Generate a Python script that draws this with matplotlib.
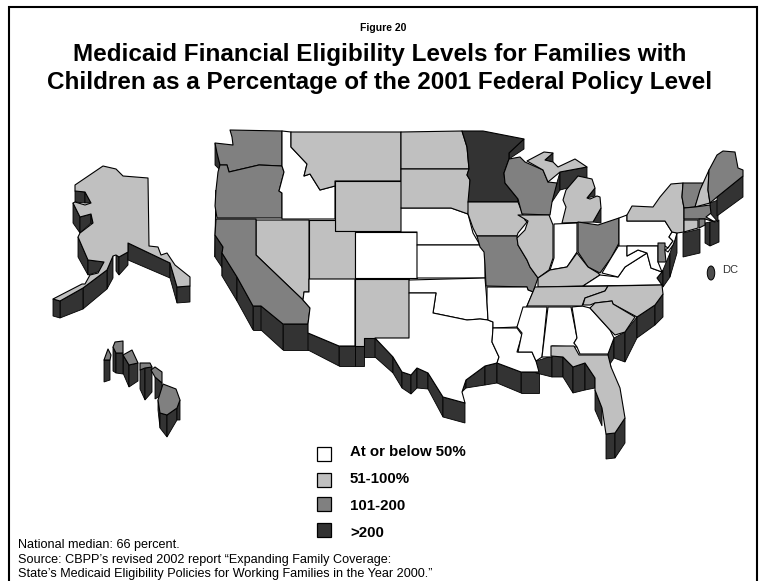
import matplotlib
matplotlib.use('Agg')
import matplotlib.pyplot as plt
from matplotlib.patches import Polygon, Ellipse, Rectangle

plt.rcParams['font.family'] = ['Liberation Sans', 'DejaVu Sans']

# legend and text
level_names = ['At or below 50%', '51-100%', '101-200', '>200']
level_colors = ['#ffffff', '#c0c0c0', '#808080', '#333333']
figure_label = 'Figure 20'
title_lines = ['Medicaid Financial Eligibility Levels for Families with',
               'Children as a Percentage of the 2001 Federal Policy Level']
notes = ['National median: 66 percent.',
         'Source: CBPP\u2019s revised 2002 report \u201cExpanding Family Coverage:',
         'State\u2019s Medicaid Eligibility Policies for Working Families in the Year 2000.\u201d']

# level of each state (index into level_names)
white_states = ['ID', 'CO', 'AZ', 'NE', 'KS', 'OK', 'TX', 'AR', 'LA', 'MS', 'AL', 'GA', 'IN', 'VA', 'WV', 'PA', 'NJ', 'MD']
light_states = ['MT', 'WY', 'ND', 'SD', 'NV', 'UT', 'NM', 'IA', 'IL', 'KY', 'TN', 'NC', 'SC', 'FL', 'NY', 'NH', 'CT', 'MI_U', 'MI_L', 'AK']
mid_states = ['WA', 'OR', 'CA', 'MO', 'WI', 'OH', 'VT', 'ME', 'MA', 'RI', 'DE', 'HI1', 'HI2', 'HI3', 'HI4', 'HI5', 'HI6']
dark_states = ['MN']

# outlines in picture pixels
state_shapes = {
    'WA': [(230,130),(282,131),(282,166),(259,165),(229,172),(227,165),(220,165),(217,153),(215,143),(233,145),(232,137)],
    'OR': [(220,165),(227,165),(229,172),(259,165),(282,166),(284,172),(279,191),(282,193),(282,218),(217,218),(215,206),(216,190),(218,172)],
    'ID': [(282,131),(291,132),(291,147),(307,164),(304,176),(310,174),(320,190),(335,186),(335,219),(282,219),(282,193),(279,191),(284,172),(282,166)],
    'MT': [(291,132),(401,132),(401,181),(335,181),(335,186),(320,190),(310,174),(304,176),(307,164),(291,147)],
    'WY': [(335,181),(401,181),(401,231),(335,231)],
    'UT': [(309,220),(335,220),(335,231),(355,231),(355,279),(309,279)],
    'NV': [(256,220),(309,220),(309,292),(304,292),(303,300),(256,255)],
    'CA': [(216,219),(256,219),(256,255),(303,300),(310,308),(308,324),(283,324),(261,306),(253,306),(237,277),(222,253),(223,247),(215,235)],
    'AZ': [(309,279),(355,279),(355,346),(339,346),(308,333),(308,324),(310,308),(303,300),(304,292),(309,292)],
    'NM': [(355,279),(409,279),(409,338),(364,338),(364,346),(355,346)],
    'CO': [(355,232),(417,232),(417,278),(355,278)],
    'NE': [(401,208),(451,208),(468,214),(473,233),(480,245),(417,245),(417,232),(401,232)],
    'KS': [(417,245),(480,245),(485,252),(485,278),(417,278)],
    'ND': [(401,132),(462,131),(467,147),(469,169),(401,169)],
    'SD': [(401,169),(469,169),(467,175),(470,180),(470,200),(468,214),(451,208),(401,208)],
    'OK': [(409,280),(485,278),(487,302),(488,320),(480,319),(467,320),(433,313),(436,293),(409,293)],
    'TX': [(409,293),(436,293),(433,313),(467,320),(480,319),(488,320),(493,322),(493,328),(492,342),(499,357),(497,363),(485,366),(466,380),(462,392),(465,403),(443,397),(428,373),(417,368),(411,375),(402,372),(393,357),(375,338),(409,338)],
    'MN': [(462,131),(483,131),(524,139),(509,153),(509,159),(504,173),(505,183),(518,199),(518,202),(468,202),(470,180),(467,175),(469,169),(467,147)],
    'IA': [(468,202),(518,202),(525,220),(527,222),(518,233),(517,236),(477,236),(473,228),(468,214)],
    'MO': [(477,236),(517,236),(518,245),(527,260),(530,267),(538,278),(533,292),(528,290),(527,287),(486,286),(485,265),(484,252),(480,247)],
    'AR': [(487,287),(527,287),(528,290),(533,292),(527,306),(517,327),(493,328),(493,322),(488,320),(487,302)],
    'LA': [(493,328),(517,328),(522,335),(517,352),(532,352),(536,361),(539,372),(521,372),(497,363),(499,357),(492,342)],
    'MS': [(523,307),(547,307),(542,357),(536,361),(532,352),(518,352),(522,333),(517,327)],
    'AL': [(548,307),(571,307),(577,338),(574,343),(578,347),(552,346),(552,357),(542,357)],
    'GA': [(572,307),(582,306),(590,308),(610,330),(614,338),(608,354),(580,354),(577,347),(574,343),(577,338)],
    'FL': [(551,346),(574,346),(579,355),(608,355),(611,367),(620,388),(625,418),(615,433),(606,434),(602,408),(595,390),(595,378),(585,363),(573,367),(563,357),(551,356)],
    'WI': [(509,159),(520,157),(525,162),(543,170),(548,182),(557,183),(552,202),(550,215),(522,214),(518,199),(505,183),(504,173)],
    'MI_U': [(527,161),(544,152),(553,153),(545,160),(553,162),(558,167),(575,159),(587,167),(560,172),(548,182),(543,170)],
    'MI_L': [(562,223),(566,207),(563,200),(566,190),(578,176),(592,179),(595,188),(587,198),(590,199),(597,196),(600,197),(601,208),(593,222)],
    'IL': [(518,215),(549,215),(553,225),(553,258),(549,270),(538,278),(530,267),(527,260),(518,245),(517,238),(525,230),(528,221)],
    'IN': [(554,224),(577,223),(577,252),(567,267),(550,270),(554,258)],
    'OH': [(578,222),(598,225),(619,218),(619,243),(611,258),(600,273),(588,267),(578,252)],
    'KY': [(577,253),(588,267),(598,273),(600,275),(583,286),(538,287),(538,278),(550,270),(567,267)],
    'TN': [(535,287),(608,286),(605,291),(585,298),(582,306),(527,306)],
    'VA': [(583,286),(600,275),(618,277),(625,267),(647,253),(651,268),(662,272),(657,278),(662,285)],
    'WV': [(619,245),(627,245),(627,256),(638,250),(647,253),(625,267),(618,277),(602,273),(611,258)],
    'PA': [(619,218),(627,215),(627,221),(665,221),(672,232),(669,237),(673,241),(668,248),(665,246),(619,246)],
    'MD': [(627,246),(658,246),(658,262),(662,272),(651,268),(647,253),(638,250),(627,256)],
    'DE': [(658,243),(665,243),(665,252),(666,262),(658,262)],
    'NJ': [(672,232),(677,233),(675,240),(673,245),(668,252),(665,250),(668,248),(673,241),(669,237)],
    'NC': [(608,286),(662,285),(663,294),(655,305),(637,317),(613,304),(612,301),(595,303),(590,305),(583,305),(585,298),(605,291)],
    'SC': [(590,308),(595,303),(612,301),(613,304),(635,317),(625,332),(615,335),(610,330)],
    'NY': [(627,221),(627,215),(632,206),(653,207),(660,197),(671,184),(683,183),(682,197),(684,208),(684,219),(684,232),(677,233),(672,232),(665,221)],
    'VT': [(683,183),(703,183),(695,207),(684,208),(682,197)],
    'NH': [(709,170),(708,190),(710,203),(695,207),(700,190)],
    'ME': [(709,170),(717,155),(723,151),(735,152),(738,168),(743,170),(743,176),(717,197),(710,203),(708,190)],
    'MA': [(684,208),(695,207),(710,205),(711,213),(706,217),(715,222),(705,219),(684,219)],
    'CT': [(684,220),(698,220),(698,228),(684,232)],
    'RI': [(699,219),(705,219),(705,225),(699,228)],
    'AK': [(75,185),(103,166),(116,169),(123,176),(148,178),(149,246),(158,247),(161,255),(167,253),(175,265),(190,277),(190,286),(177,287),(170,263),(128,243),(128,252),(119,257),(116,255),(113,256),(107,270),(83,288),(60,301),(53,299),(82,284),(85,284),(90,275),(98,273),(104,262),(88,260),(78,237),(80,233),(93,223),(91,214),(80,217),(73,203),(75,202),(85,205),(91,203),(85,192),(75,191)],
    'HI1': [(163,384),(176,389),(180,400),(177,408),(167,415),(160,413),(158,400)],
    'HI2': [(151,370),(155,367),(162,372),(162,383),(155,377)],
    'HI3': [(140,363),(150,363),(152,367),(145,368),(140,370)],
    'HI4': [(123,355),(132,350),(138,363),(129,365)],
    'HI5': [(113,347),(115,342),(123,341),(123,353),(116,353)],
    'HI6': [(104,360),(108,349),(111,355),(110,360)],
}

# extruded coast walls: points along the edge, and how far each one drops
walls = [
    ([(215,143),(220,165)], [22,5]),
    ([(216,190),(215,235),(223,247),(222,253),(237,277),(253,306),(261,306),(283,324),(308,324)], [5,22,22,23,24,24,24,26,26]),
    ([(308,333),(339,346),(355,346),(364,346)], [17,20,20,20]),
    ([(364,338),(375,338),(393,357),(402,372),(411,375),(417,368),(428,373),(443,397),(465,403)], [19,19,16,16,19,20,16,20,20]),
    ([(462,392),(466,380),(485,366),(497,363),(521,372),(539,372)], [0,8,19,20,21,21]),
    ([(536,361),(552,356),(563,357),(573,367),(585,363),(595,378),(595,390),(602,408)], [12,21,20,26,27,10,20,18]),
    ([(606,434),(615,433),(625,418)], [25,25,25]),
    ([(611,367),(608,354),(614,338),(625,332),(637,317),(655,305),(663,294)], [0,13,20,30,21,20,23]),
    ([(657,278),(663,270),(670,253),(677,233)], [7,17,24,20]),
    ([(683,233),(700,229)], [24,24]),
    ([(705,223),(710,222),(719,220)], [20,24,22]),
    ([(710,203),(718,200)], [10,22]),
    ([(717,197),(743,176)], [19,21]),
    ([(509,153),(524,139)], [6,10]),
    ([(552,200),(560,172)], [2,18]),
    ([(560,172),(587,167)], [18,16]),
    ([(545,160),(553,153)], [2,9]),
    ([(587,198),(595,188)], [0,8]),
    ([(593,222),(601,208)], [0,15]),
    ([(75,191),(85,192),(91,203)], [11,11,0]),
    ([(73,203),(80,217),(91,214),(93,223)], [20,16,9,2]),
    ([(78,237),(88,260),(104,262)], [20,15,8]),
    ([(113,256),(107,270),(83,288),(60,301),(53,299)], [22,19,21,17,17]),
    ([(116,255),(119,257),(128,252)], [16,18,13]),
    ([(128,243),(170,263)], [17,15]),
    ([(170,263),(177,287),(190,286)], [15,16,16]),
    ([(158,400),(160,413),(167,415),(177,408),(180,400)], [10,15,22,12,20]),
    ([(155,377),(162,383)], [22,12]),
    ([(140,370),(145,368),(152,367)], [19,32,25]),
    ([(123,355),(129,365),(138,363)], [18,22,18]),
    ([(113,347),(116,353),(123,353)], [24,20,21]),
    ([(104,360),(110,360)], [22,20]),
]

level_of = {}
for level, names in enumerate([white_states, light_states, mid_states, dark_states]):
    for name in names:
        level_of[name] = level

fig = plt.figure(figsize=(7.66, 5.81), dpi=100)
ax = fig.add_axes([0, 0, 1, 1])
ax.set_xlim(0, 766)
ax.set_ylim(581, 0)
ax.axis('off')

# frame, open at the bottom
ax.plot([9, 9, 757, 757], [581, 7, 7, 581], color='black', lw=1.5, solid_joinstyle='miter')

# walls go under the states
for points, drops in walls:
    for i in range(len(points) - 1):
        x0, y0 = points[i]
        x1, y1 = points[i + 1]
        quad = [(x0, y0), (x1, y1), (x1, y1 + drops[i + 1]), (x0, y0 + drops[i])]
        ax.add_patch(Polygon(quad, closed=True, facecolor=level_colors[3], edgecolor='black', lw=0.6, zorder=2))

for name, shape in state_shapes.items():
    ax.add_patch(Polygon(shape, closed=True, facecolor=level_colors[level_of[name]],
                         edgecolor='black', lw=0.8, joinstyle='round', zorder=3))

# DC marker
ax.add_patch(Ellipse((711, 273), 7.5, 14, facecolor='#4d4d4d', edgecolor='black', lw=0.7, zorder=3))
ax.text(722, 270, 'DC', fontsize=8, color='#333333', va='center', ha='left')

# legend
legend_tops = [447, 473, 497, 523]
legend_ys = [452, 479, 506, 533]
for i in range(4):
    ax.add_patch(Rectangle((317, legend_tops[i]), 14, 14, facecolor=level_colors[i], edgecolor='black', lw=0.9, zorder=3))
    ax.text(350, legend_ys[i], level_names[i], fontsize=10.8, fontweight='bold', va='center', ha='left')

ax.text(383, 28, figure_label, fontsize=7.5, fontweight='bold', ha='center', va='center')
ax.text(380, 54, title_lines[0], fontsize=17.5, fontweight='bold', ha='center', va='center')
ax.text(380, 83, title_lines[1], fontsize=17.5, fontweight='bold', ha='center', va='center')

note_ys = [545, 560, 574]
for i in range(3):
    ax.text(18, note_ys[i], notes[i], fontsize=9.1, ha='left', va='center')

fig.savefig('out.png', dpi=100)
